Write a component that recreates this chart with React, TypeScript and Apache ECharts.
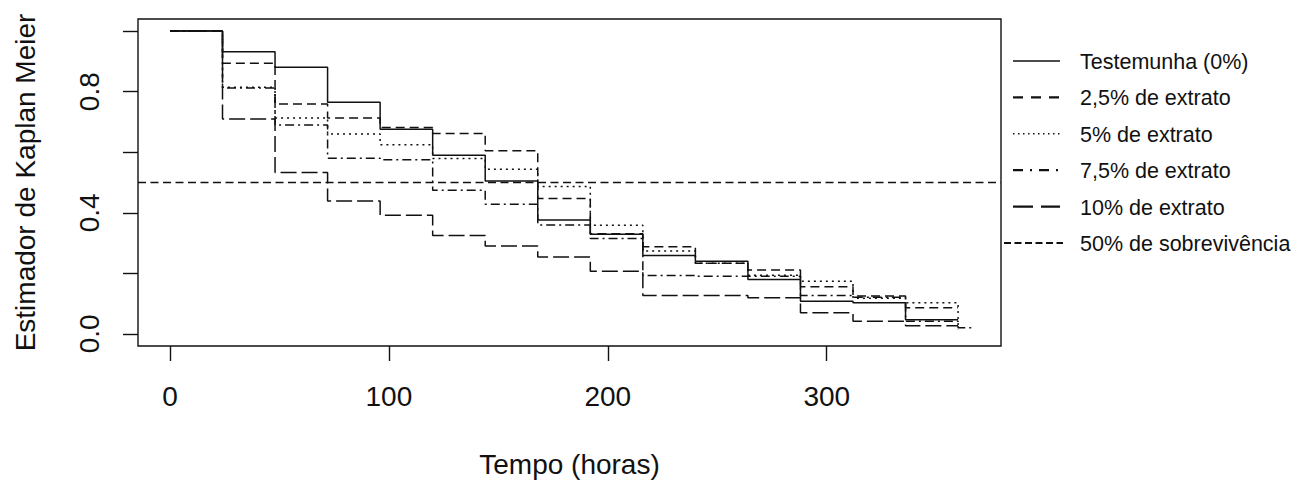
import React, { useEffect, useRef } from "react";
import * as echarts from "echarts";

// Tempo (horas) at which each Kaplan-Meier step starts
const times = [0, 24, 48, 72, 96, 120, 144, 168, 192, 216, 240, 264, 288, 312, 336, 360];

// Survival estimates (value holds until the next time)
const testemunha = [1, 0.932, 0.881, 0.765, 0.676, 0.59, 0.505, 0.376, 0.329, 0.259, 0.24, 0.18, 0.108, 0.103, 0.047, 0.047];
const extrato25 = [1, 0.894, 0.759, 0.713, 0.682, 0.662, 0.605, 0.447, 0.331, 0.288, 0.233, 0.211, 0.156, 0.125, 0.086, 0.086];
const extrato5 = [1, 0.815, 0.713, 0.66, 0.625, 0.579, 0.544, 0.487, 0.359, 0.274, 0.233, 0.194, 0.174, 0.118, 0.103, 0.015];
const extrato75 = [1, 0.812, 0.69, 0.58, 0.575, 0.474, 0.428, 0.36, 0.315, 0.193, 0.19, 0.19, 0.127, 0.121, 0.042, 0.02];
const extrato10 = [1, 0.71, 0.533, 0.439, 0.392, 0.325, 0.29, 0.254, 0.207, 0.127, 0.127, 0.119, 0.07, 0.042, 0.027, 0.027];
const extrato75Tail = [366, 0.02];

const survivalLine = 0.5;
const xTicks = [0, 100, 200, 300];
const yTicks = [0, 0.2, 0.4, 0.6, 0.8, 1.0];
const yLabels = [0, 0.4, 0.8];

const legendNames = [
  "Testemunha (0%)",
  "2,5% de extrato",
  "5% de extrato",
  "7,5% de extrato",
  "10% de extrato",
  "50% de sobrevivência",
];

const FONT = '"Liberation Sans", Arial, Helvetica, sans-serif';
const INK = "#111";

export default function App() {
  const ref = useRef<HTMLDivElement>(null);

  useEffect(() => {
    if (!ref.current) return;
    const chart = echarts.init(ref.current, null, { renderer: "svg" });

    const pairs = (vals: number[]) => times.map((t, i) => [t, vals[i]]);
    const xMin = -14.6;
    const xMax = 379.6;

    const plotDash: any[] = ["solid", [9, 5], [2, 4], [9, 4, 2, 4], [16, 5], [8, 4.5]];
    const legendDash: any[] = [null, [10, 8], [1.5, 3.5], [10, 7, 2, 7], [20, 8], [7, 3.5]];
    const legendWidth = [1.3, 2.2, 1.4, 2.2, 2.2, 2.2];

    const mkSeries = (name: string, data: any[], dash: any) => ({
      name,
      type: "line",
      step: "end",
      symbol: "none",
      data,
      lineStyle: { color: INK, width: 1.5, type: dash },
      emphasis: { disabled: true },
    });

    const series: any[] = [
      mkSeries(legendNames[0], pairs(testemunha), plotDash[0]),
      mkSeries(legendNames[1], pairs(extrato25), plotDash[1]),
      mkSeries(legendNames[2], pairs(extrato5), plotDash[2]),
      mkSeries(legendNames[3], [...pairs(extrato75), extrato75Tail], plotDash[3]),
      mkSeries(legendNames[4], pairs(extrato10), plotDash[4]),
      {
        name: legendNames[5],
        type: "line",
        symbol: "none",
        data: [
          [xMin, survivalLine],
          [xMax, survivalLine],
        ],
        lineStyle: { color: INK, width: 1.5, type: plotDash[5] },
        emphasis: { disabled: true },
      },
    ];

    const legendGraphics: any[] = [];
    legendNames.forEach((name, i) => {
      const yc = 62 + i * 36.4;
      const x1 = i === 5 ? 1004 : 1013;
      const x2 = i === 5 ? 1063 : 1060;
      legendGraphics.push({
        type: "line",
        shape: { x1, y1: yc - 1, x2, y2: yc - 1 },
        style: {
          stroke: INK,
          lineWidth: legendWidth[i],
          lineDash: legendDash[i] || null,
        },
        silent: true,
      });
      legendGraphics.push({
        type: "text",
        x: 1080,
        y: yc,
        style: {
          text: name,
          fontSize: 21.5,
          fontFamily: FONT,
          fill: INK,
          align: "left",
          verticalAlign: "middle",
          textAlign: "left",
          textVerticalAlign: "middle",
        },
        silent: true,
      });
    });

    chart.setOption({
      animation: false,
      backgroundColor: "#fff",
      grid: {
        left: 138,
        right: 304,
        top: 19,
        bottom: 136,
        show: true,
        borderColor: INK,
        borderWidth: 1.4,
        backgroundColor: "transparent",
      },
      xAxis: {
        type: "value",
        min: xMin,
        max: xMax,
        axisLine: { show: false, onZero: false },
        splitLine: { show: false },
        axisTick: {
          show: true,
          inside: false,
          customValues: xTicks,
          length: 15,
          lineStyle: { color: INK, width: 1.4 },
        },
        axisLabel: {
          customValues: xTicks,
          fontSize: 28,
          fontFamily: FONT,
          color: INK,
          margin: 36,
          formatter: (v: number) => String(v),
        },
        name: "Tempo (horas)",
        nameLocation: "middle",
        nameGap: 104,
        nameTextStyle: { fontSize: 28, fontFamily: FONT, color: INK },
      },
      yAxis: {
        type: "value",
        min: -0.04,
        max: 1.04,
        axisLine: { show: false, onZero: false },
        splitLine: { show: false },
        axisTick: {
          show: true,
          inside: false,
          customValues: yTicks,
          length: 15,
          lineStyle: { color: INK, width: 1.4 },
        },
        axisLabel: {
          customValues: yLabels,
          rotate: 90,
          fontSize: 28,
          fontFamily: FONT,
          color: INK,
          margin: 35,
          formatter: (v: number) => v.toFixed(1),
        },
        name: "Estimador de Kaplan Meier",
        nameLocation: "middle",
        nameGap: 99,
        nameRotate: 90,
        nameTextStyle: { fontSize: 28, fontFamily: FONT, color: INK },
      },
      series,
      graphic: legendGraphics,
    });

    return () => chart.dispose();
  }, []);

  return (
    <div
      ref={ref}
      style={{ position: "fixed", left: 0, top: 0, width: 1305, height: 483, background: "#fff" }}
    />
  );
}
